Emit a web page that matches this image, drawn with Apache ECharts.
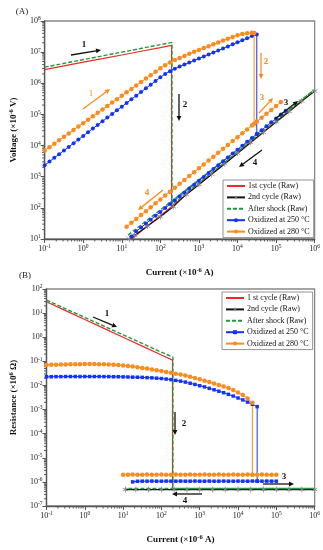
<!DOCTYPE html>
<html><head><meta charset="utf-8">
<script src="https://cdn.jsdelivr.net/npm/echarts@6/dist/echarts.min.js"></script>
<style>html,body{margin:0;padding:0;background:#fff}#c{width:323px;height:550px}</style>
</head><body><div id="c"></div>
<script>
// ---------- DATA ----------
// current grid (x10^-6 A), 8 points per decade, index k -> 10^(-1+k/8)
const I8 = [0.1,0.1334,0.1778,0.2371,0.3162,0.4217,0.5623,0.7499,
  1,1.334,1.778,2.371,3.162,4.217,5.623,7.499,
  10,13.34,17.78,23.71,31.62,42.17,56.23,74.99,
  100,133.4,177.8,237.1,316.2,421.7,562.3,749.9,
  1000,1334,1778,2371,3162,4217,5623,7499,
  10000,13340,17780,23710,31620,42170,56230,74990,
  100000,133400,177800,237100,316200,421700,562300,749900,1000000];

// Panel A : Voltage (x10^-6 V)
const aRedUpI = [0.1,0.3162,1,3.162,10,31.62,100,195];
const aRedUpV = [2.75e6,3.6e6,4.8e6,6.2e6,8.1e6,1.07e7,1.4e7,1.66e7];
const aRedLowI = [195,1000000,15];
const aRedLowV = [110,5.6e5,8.4];
const aGreenUpI = [0.1,1,10,100,200];
const aGreenUpV = [3.3e6,5.75e6,1.0e7,1.74e7,2.05e7];
const aGreenLowI = [200,1000000,13];
const aGreenLowV = [126,6.3e5,12];
const aBlackI = [16,21.5,46.4,100,215,464,1000,2150,4640,10000,21500,46400,100000,215000,464000,1000000];
const aBlackV = [10,13,26,52,108,270,560,1200,2600,5700,12500,27000,58000,125000,270000,560000];
const a250UpV = [2340,3070,4030,5280,6920,9070,11900,15600,20400,26800,35100,46000,60300,79000,103500,135700,
  177800,233100,305500,400400,524800,687900,901600,1.182e6,1.549e6,1.995e6,2.455e6,2.917e6,3.428e6,3.981e6,
  4.624e6,5.370e6,6.237e6,7.244e6,8.414e6,9.772e6,1.135e7,1.318e7,1.531e7,1.778e7,2.065e7,2.399e7,2.786e7,3.3e7,3.7e7]; // k=0..44
const a250Drop = [31620, 23400];
const a250LowV = [12,17.6,23.4,31.2,41.7,55.6,74.1,98.8,132,176,234,312,417,556,741,988,1318,1757,2343,3125,
  4167,5557,7410,9884,13180,17570,23430,31250,41670,55570,74100,98840,131800]; // k=18..50
const a280UpV = [6920,8910,11480,14790,19050,24550,31620,40740,52480,67610,87100,112200,144500,186200,239900,309000,
  398100,512900,660700,851100,1.096e6,1.413e6,1.820e6,2.344e6,3.020e6,3.802e6,4.677e6,5.559e6,6.531e6,7.586e6,
  8.810e6,1.023e7,1.175e7,1.349e7,1.549e7,1.778e7,2.042e7,2.344e7,2.692e7,3.090e7,3.467e7,3.802e7,4.074e7,4.169e7]; // k=0..43
const a280Peak = [27000, 4.1e7];
const a280Drop = [27000, 50000];
const a280LowV = [24.8,33.1,44.1,58.9,78.5,104.7,139.6,186,248,331,441,589,785,1047,1396,1862,2484,3311,4415,5888,
  7852,10470,13960,18620,24840,33110,44150,58880,78520,104700,139600,186200,248400]; // k=17..49

// Panel B : Resistance (x10^6 Ohm)
const bRedUpI = [0.1,0.3162,1,3.162,10,31.62,100,195];
const bRedUpR = [29.5,12.7,5.43,2.33,1.0,0.429,0.184,0.112];
const bRedLowI = [195,1000000];
const bRedLowR = [5.0e-7,5.0e-7];
const bGreenUpI = [0.1,0.3162,1,3.162,10,31.62,100,200];
const bGreenUpR = [34.7,15.1,6.6,2.88,1.26,0.55,0.24,0.148];
const bGreenLowI = [200,1000000,11];
const bGreenLowR = [5.3e-7,5.3e-7,5.3e-7];
const bBlackI = [11.5,21.5,46.4,100,215,464,1000,2150,4640,10000,21500,46400,100000,215000,464000,1000000];
const bBlackR = [4.8e-7,4.8e-7,4.8e-7,4.8e-7,4.8e-7,4.8e-7,4.8e-7,4.8e-7,4.8e-7,4.8e-7,4.8e-7,4.8e-7,4.8e-7,4.8e-7,4.8e-7,4.8e-7];
const b250UpR = [0.0229,0.0229,0.0232,0.0232,0.0234,0.0234,0.0234,0.0234,0.0234,0.0234,0.0234,0.0234,0.0232,0.0232,
  0.0229,0.0229,0.0227,0.0224,0.0221,0.0219,0.0216,0.0211,0.0207,0.0200,0.0193,0.0184,0.0174,0.0162,0.0151,0.0138,
  0.0123,0.0110,0.00977,0.00871,0.00759,0.00661,0.00575,0.00501,0.00427,0.00363,0.00302,0.00251,0.00204,0.00166,0.00132]; // k=0..44
const b250Drop = [31620, 1.07e-6];
const b250LowR = [1.0e-6,1.06e-6,1.07e-6,1.07e-6,1.08e-6,1.07e-6,1.07e-6,1.08e-6,1.07e-6,1.07e-6,1.08e-6,1.07e-6,
  1.07e-6,1.08e-6,1.07e-6,1.07e-6,1.08e-6,1.07e-6,1.07e-6,1.08e-6,1.07e-6,1.07e-6,1.08e-6,1.07e-6,1.07e-6,1.08e-6,
  1.07e-6,1.07e-6,1.08e-6,1.07e-6,1.07e-6]; // k=18..48
const b280UpR = [0.0708,0.0716,0.0724,0.0733,0.0741,0.0750,0.0759,0.0759,0.0767,0.0767,0.0767,0.0759,0.0750,0.0741,
  0.0724,0.0700,0.0676,0.0646,0.0610,0.0575,0.0531,0.0501,0.0462,0.0427,0.0398,0.0363,0.0335,0.0309,0.0282,0.0257,
  0.0229,0.0204,0.0182,0.0158,0.0138,0.0120,0.0105,0.00912,0.00776,0.00646,0.00513,0.00398,0.00288,0.00191]; // k=0..43
const b280Drop = [23710, 2.0e-6];
const b280LowR = [2.0e-6,2.0e-6,2.01e-6,2.0e-6,2.0e-6,2.01e-6,2.0e-6,2.0e-6,2.01e-6,2.0e-6,2.0e-6,2.01e-6,2.0e-6,
  2.0e-6,2.01e-6,2.0e-6,2.0e-6,2.01e-6,2.0e-6,2.0e-6,2.01e-6,2.0e-6,2.0e-6,2.01e-6,2.0e-6,2.0e-6,2.01e-6,2.0e-6,
  2.0e-6,2.01e-6,2.0e-6,2.0e-6,2.0e-6]; // k=16..48

const namesA = ['1st cycle (Raw)','2nd cycle (Raw)','After shock (Raw)','Oxidized at 250 °C','Oxidized at 280 °C'];
const namesB = ['1 st cycle (Raw)','2nd cycle (Raw)\u200b','After shock (Raw)\u200b','Oxidized at 250 °C\u200b','Oxidized at 280 °C\u200b'];

// ---------- BUILD ----------
const FONT = '"Liberation Serif","Times New Roman",serif';
const RED='#ee2a24', GREEN='#1f9a3c', BLACK='#111111', BLUE='#1432ff', ORANGE='#ff8a1c';
const ASTER = 'path://M4.4,0 L5.6,0 L5.6,4 L9.1,2 L9.7,3 L6.2,5 L9.7,7 L9.1,8 L5.6,6 L5.6,10 L4.4,10 L4.4,6 L0.9,8 L0.3,7 L3.8,5 L0.3,3 L0.9,2 L4.4,4 Z';
const zip = (xs, ys) => xs.map((x,i)=>[x, ys[i]]);
const gridSlice = (start, ys) => ys.map((y,i)=>[I8[start+i], y]);

function line(name, gi, data, color, opt){
  return Object.assign({
    type:'line', name, xAxisIndex:gi, yAxisIndex:gi, data, animation:false,
    showSymbol:false, symbol:'none', lineStyle:{color, width:1.2}, itemStyle:{color}
  }, opt||{});
}
function markedLine(name, gi, data, color, sym, size){
  return line(name, gi, data, color, {showSymbol:true, symbol:sym, symbolSize:size,
    lineStyle:{color, width:1}, itemStyle:{color}});
}
const sup = {s:{fontSize:5.5, lineHeight:6, verticalAlign:'top', fontFamily:FONT}};
const supName = {s:{fontSize:6.5, lineHeight:7, verticalAlign:'top', fontFamily:FONT, fontWeight:'bold'}};
function logAxis(gi, min, max, split, isX, name, gap){
  return {
    type:'log', logBase:10, gridIndex:gi, min, max, splitNumber:split,
    splitLine:{show:false}, minorTick:{show:false},
    axisLine:{show:true, onZero:false, lineStyle:{color:'#555', width:1.3}},
    axisTick:{show:true, inside:false, length:4, lineStyle:{color:'#555', width:1}},
    axisLabel:{show:true, interval:0, fontFamily:FONT, fontSize:8, lineHeight:10, color:'#222', margin:isX?5:4,
      formatter:v=>'10{s|'+Math.round(Math.log10(v))+'}', rich:sup},
    name, nameLocation:'middle', nameGap:gap, nameRotate:isX?0:90,
    nameTextStyle:{fontFamily:FONT, fontWeight:'bold', fontSize:9, lineHeight:11, color:'#111', rich:supName}
  };
}
function minorData(xe0, xe1, ye0, ye1, xmin, ymin){
  const d=[];
  for(let e=xe0;e<xe1;e++) for(let m=2;m<10;m++) d.push([m*Math.pow(10,e), ymin, 0]);
  for(let e=ye0;e<ye1;e++) for(let m=2;m<10;m++) d.push([xmin, m*Math.pow(10,e), 1]);
  return d;
}
function minorSeries(gi, data){
  return {type:'custom', xAxisIndex:gi, yAxisIndex:gi, data, clip:false, silent:true, animation:false, z:1,
    encode:{x:0,y:1},
    renderItem:(p, api)=>{
      const c = api.coord([api.value(0), api.value(1)]);
      if(api.value(2)===0) return {type:'line', shape:{x1:c[0],y1:c[1],x2:c[0],y2:c[1]+2.5}, style:{stroke:'#555',lineWidth:1}};
      return {type:'line', shape:{x1:c[0]-2.5,y1:c[1],x2:c[0],y2:c[1]}, style:{stroke:'#555',lineWidth:1}};
    }};
}
function arrow(x1,y1,x2,y2,color){
  const a=Math.atan2(y2-y1,x2-x1), L=5, W=2.4;
  const bx=x2-L*Math.cos(a), by=y2-L*Math.sin(a), px=-Math.sin(a)*W, py=Math.cos(a)*W;
  return [{type:'line', shape:{x1,y1,x2:bx,y2:by}, style:{stroke:color, lineWidth:1.3}},
          {type:'polygon', shape:{points:[[x2,y2],[bx+px,by+py],[bx-px,by-py]]}, style:{fill:color}}];
}
function label(t,x,y,color,bold){
  return {type:'text', x, y, style:{text:t, fill:color, font:(bold?'bold ':'')+'9px '+FONT, align:'center', verticalAlign:'middle'}};
}
function legend(names, left, top){
  const data = names.map((n,i)=> (i===0||i===2) ? {name:n, itemStyle:{opacity:0}} : {name:n});
  return {data, left, top, orient:'vertical', selectedMode:false, itemWidth:18, itemHeight:5, itemGap:3.4,
    padding:[2,4,2,3], borderColor:'#777', borderWidth:0.8, backgroundColor:'#fff',
    textStyle:{fontFamily:FONT, fontSize:8, lineHeight:7.2, color:'#111', padding:[0,0,0,-2]}};
}

const series = [
  minorSeries(0, minorData(-1,6,1,8,0.1,10)),
  minorSeries(1, minorData(-1,6,-7,2,0.1,1e-7)),
  // Panel A
  line(namesA[0],0,zip(aRedUpI,aRedUpV).concat(zip(aRedLowI,aRedLowV)),RED),
  line(namesA[1],0,zip(aBlackI,aBlackV),BLACK,{showSymbol:true,symbol:ASTER,symbolSize:6,itemStyle:{color:'#888'},lineStyle:{color:BLACK,width:1.2}}),
  line(namesA[2],0,zip(aGreenUpI,aGreenUpV).concat(zip(aGreenLowI,aGreenLowV)),GREEN,{lineStyle:{color:GREEN,width:1.4,type:[4,2]}}),
  markedLine(namesA[3],0,gridSlice(0,a250UpV).concat([a250Drop]),BLUE,'circle',4),
  markedLine(namesA[3],0,gridSlice(18,a250LowV),BLUE,'circle',4),
  markedLine(namesA[4],0,gridSlice(0,a280UpV).concat([a280Peak,a280Drop]),ORANGE,'circle',4.5),
  markedLine(namesA[4],0,gridSlice(17,a280LowV),ORANGE,'circle',4.5),
  // Panel B
  line(namesB[0],1,zip(bRedUpI,bRedUpR).concat(zip(bRedLowI,bRedLowR)),RED),
  line(namesB[1],1,zip(bBlackI,bBlackR),BLACK,{showSymbol:true,symbol:ASTER,symbolSize:6,itemStyle:{color:'#888'},lineStyle:{color:BLACK,width:1.2}}),
  line(namesB[2],1,zip(bGreenUpI,bGreenUpR).concat(zip(bGreenLowI,bGreenLowR)),GREEN,{lineStyle:{color:GREEN,width:1.4,type:[4,2]}}),
  markedLine(namesB[3],1,gridSlice(0,b250UpR).concat([b250Drop]),BLUE,'rect',3.5),
  markedLine(namesB[3],1,gridSlice(18,b250LowR),BLUE,'rect',3.5),
  markedLine(namesB[4],1,gridSlice(0,b280UpR).concat([b280Drop]),ORANGE,'circle',4.5),
  markedLine(namesB[4],1,gridSlice(16,b280LowR),ORANGE,'circle',4.5)
];

const graphic = [].concat(
  label('(A)',22,12,'#222',false), label('(B)',25,276,'#222',false),
  arrow(71,55,101,50,BLACK), label('1',84,45,BLACK,true),
  arrow(83,109,110,89,ORANGE), label('1',91,94,ORANGE,false),
  arrow(179,94,179,121,BLACK), label('2',185,105,BLACK,true),
  arrow(261,53,261,79,ORANGE), label('2',266,62,ORANGE,true),
  arrow(259,113,273,98,ORANGE), label('3',262,98,ORANGE,true),
  arrow(275,119,298,101,BLACK), label('3',286,103,BLACK,true),
  arrow(262,150,239,167,BLACK), label('4',255,163,BLACK,true),
  arrow(163,190,138,210,ORANGE), label('4',147,193,ORANGE,true),
  arrow(93,317,117,327,BLACK), label('1',107,314,BLACK,true),
  arrow(175,412,175,435,BLACK), label('2',184,424,BLACK,true),
  arrow(263,484,294,484,BLACK), label('3',284,477,BLACK,true),
  arrow(202,494,172,494,BLACK), label('4',185,501,BLACK,true)
);
graphic.forEach(g=>{g.z=100;});

const chart = echarts.init(document.getElementById('c'), null, {renderer:'canvas'});
chart.setOption({
  animation:false, backgroundColor:'#fff',
  grid:[{left:42,right:8,top:21,height:218,show:true,borderColor:'#888',borderWidth:1.3,containLabel:false},
        {left:42,right:8,top:289,height:217,show:true,borderColor:'#888',borderWidth:1.3,containLabel:false}],
  xAxis:[logAxis(0,0.1,1e6,7,true,'Current (×10{s|-6} A)',28), logAxis(1,0.1,1e6,7,true,'Current (×10{s|-6} A)',28)],
  yAxis:[logAxis(0,10,1e8,7,false,'Voltage (×10{s|-6} V)',24), logAxis(1,1e-7,100,9,false,'Resistance (×10{s|6} Ω)',24)],
  legend:[legend(namesA,223,180), legend(namesB,222,292)],
  series, graphic
});
</script></body></html>
